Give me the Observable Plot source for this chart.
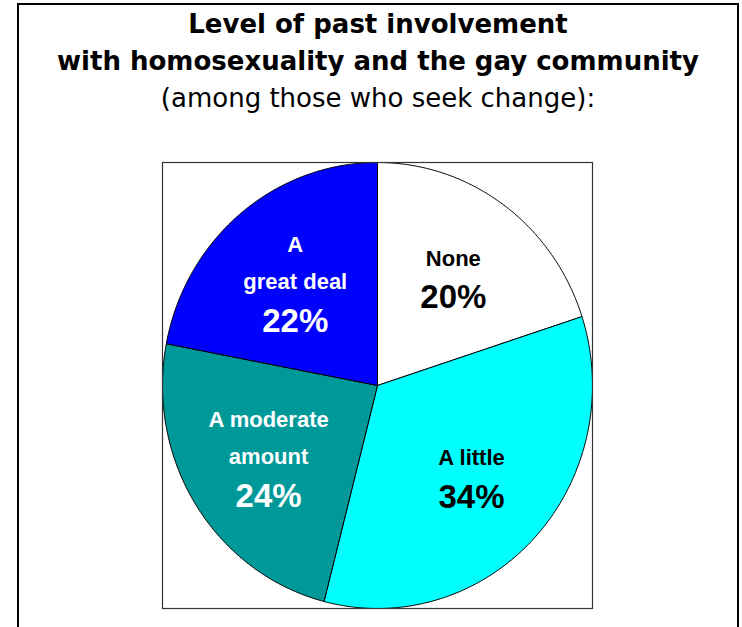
<!DOCTYPE html>
<html>
<head>
<meta charset="utf-8">
<script src="https://cdn.jsdelivr.net/npm/d3@7"></script>
<script src="https://cdn.jsdelivr.net/npm/@observablehq/plot@0.6"></script>
<style>
  html, body { margin: 0; padding: 0; background: #fff; overflow: hidden; }
  #page { position: relative; width: 742px; height: 627px; }
  #border { position: absolute; left: 17px; top: 3px; width: 718px; height: 700px; border: 2.5px solid #000; box-sizing: content-box; }
  #title { position: absolute; left: 0; top: 6px; width: 756px; text-align: center; font-family: "DejaVu Sans", Verdana, sans-serif; color: #000; }
  #title .t { font-weight: bold; font-size: 26px; line-height: 37px; }
  #title .s { font-weight: normal; font-size: 26px; line-height: 37px; }
  #chart { position: absolute; left: 0; top: 130px; }
</style>
</head>
<body>
<div id="page">
  <div id="border"></div>
  <div id="title"></div>
  <div id="chart"></div>
</div>
<script>
// ---- data ----
const titleLines = ["Level of past involvement", "with homosexuality and the gay community"];
const subtitle = "(among those who seek change):";
const categories = ["None", "A little", "A moderate amount", "A great deal"];
const labelText = ["None", "A little", "A moderate\namount", "A\ngreat deal"];
const values = [20, 34, 24, 22];
const sliceColors = ["#FFFFFF", "#00FFFF", "#009999", "#0000FF"];
const textColors = ["#000000", "#000000", "#FFFFFF", "#FFFFFF"];

// ---- title ----
const titleEl = document.getElementById("title");
for (const t of titleLines) {
  const d = document.createElement("div"); d.className = "t"; d.textContent = t; titleEl.appendChild(d);
}
const sd = document.createElement("div"); sd.className = "s"; sd.textContent = subtitle; titleEl.appendChild(sd);

// ---- slices (clockwise from 12 o'clock) ----
const total = d3.sum(values);
let acc = 0;
const slices = values.map((v, i) => {
  const a0 = acc / total * 2 * Math.PI;
  acc += v;
  const a1 = acc / total * 2 * Math.PI;
  const n = Math.max(2, Math.ceil((a1 - a0) / (Math.PI / 360)));
  const pts = [{x: 0, y: 0}];
  for (let k = 0; k <= n; k++) {
    const a = a0 + (a1 - a0) * k / n;
    pts.push({x: Math.sin(a), y: Math.cos(a)});
  }
  pts.push({x: 0, y: 0});
  const mid = (a0 + a1) / 2;
  return {
    category: categories[i], label: labelText[i], pct: v + "%",
    nLines: labelText[i].split("\n").length,
    color: sliceColors[i], textColor: textColors[i], pts,
    cx: 0.6 * Math.sin(mid), cy: 0.6 * Math.cos(mid)
  };
});

const font = "Liberation Sans, Arial, sans-serif";
const LINE = 37;      // px between label lines
const labelMarks = slices.flatMap(s => {
  const h = LINE * (s.nLines - 1) + 63;          // group height
  const firstLine = -h / 2 + 8;
  const labelCenter = firstLine + LINE * (s.nLines - 1) / 2;
  const pctCenter = firstLine + LINE * (s.nLines - 1) + 44;
  return [
    Plot.text([s], {x: "cx", y: "cy", text: "label", fill: s.textColor, fontSize: 22, fontWeight: "bold", fontFamily: font, lineAnchor: "middle", lineHeight: LINE / 22, dy: labelCenter}),
    Plot.text([s], {x: "cx", y: "cy", text: "pct", fill: s.textColor, fontSize: 33, fontWeight: "bold", fontFamily: font, lineAnchor: "middle", dy: pctCenter})
  ];
});

const chart = Plot.plot({
  width: 742,
  height: 497,
  marginLeft: 162,
  marginRight: 150,
  marginTop: 32,
  marginBottom: 19,
  x: {domain: [-1, 1], axis: null},
  y: {domain: [-1, 1], axis: null},
  marks: [
    ...slices.map(s => Plot.line(s.pts, {x: "x", y: "y", fill: s.color, stroke: "#000", strokeWidth: 1, curve: "linear"})),
    Plot.frame({stroke: "#333", strokeWidth: 1.2}),
    ...labelMarks
  ]
});
document.getElementById("chart").appendChild(chart);
</script>
</body>
</html>
